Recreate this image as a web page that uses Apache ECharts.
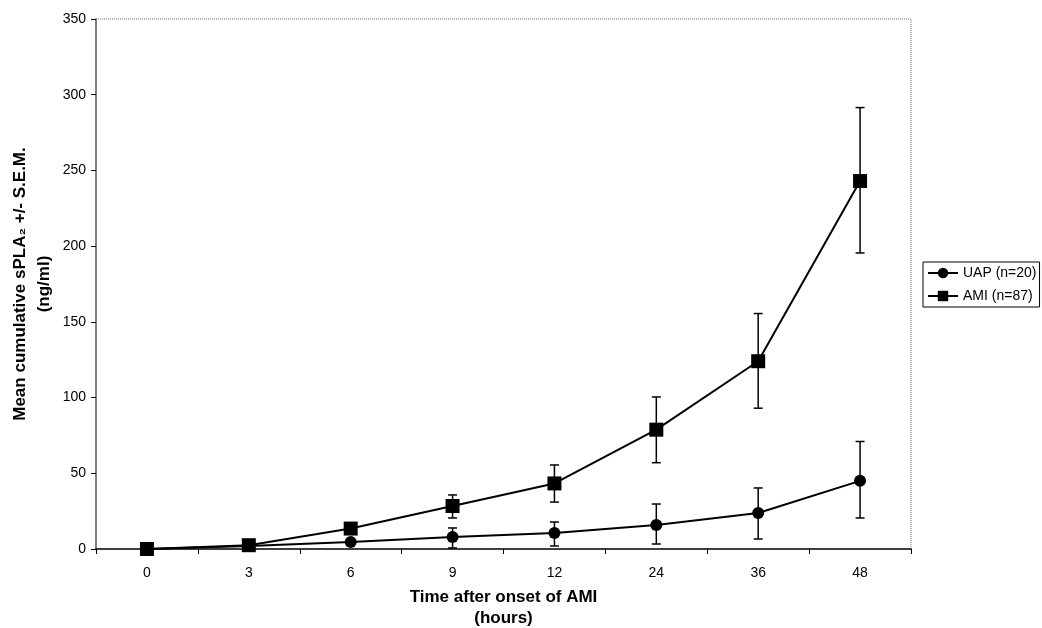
<!DOCTYPE html>
<html>
<head>
<meta charset="utf-8">
<script src="https://cdn.jsdelivr.net/npm/echarts@6/dist/echarts.min.js"></script>
<style>
  html, body { margin: 0; padding: 0; background: #fff; }
  #chart { width: 1042px; height: 628px; }
</style>
</head>
<body>
<div id="chart"></div>
<script>
const hours = ['0', '3', '6', '9', '12', '24', '36', '48']
const uapMean = [0, 2, 4.6, 7.9, 10.6, 15.9, 23.8, 45]
const uapLow = [0, 2, 4.6, 0.7, 2, 3.3, 6.6, 20.5]
const uapHigh = [0, 2, 4.6, 13.9, 17.8, 29.7, 40.3, 71]
const amiMean = [0, 2.5, 13.5, 28.4, 43.3, 78.8, 124, 243]
const amiLow = [0, 2.5, 13.5, 20.5, 31, 57, 93, 195.5]
const amiHigh = [0, 2.5, 13.5, 35.7, 55.5, 100.4, 155.5, 291.5]
const yTicks = [0, 50, 100, 150, 200, 250, 300, 350]

const chart = echarts.init(document.getElementById('chart'))
const font = 'Liberation Sans, Arial, sans-serif'

// 误差线：竖线加上下两个短横
function errorBars(low, high) {
  return {
    type: 'custom',
    silent: true,
    z: 1,
    data: hours.map((h, i) => [i, low[i], high[i]]).filter((d) => d[2] > d[1]),
    renderItem(params, api) {
      const top = api.coord([api.value(0), api.value(2)])
      const bot = api.coord([api.value(0), api.value(1)])
      const w = 4.5
      const style = { stroke: '#000', lineWidth: 1.5 }
      return {
        type: 'group',
        children: [
          { type: 'line', shape: { x1: top[0], y1: top[1], x2: bot[0], y2: bot[1] }, style },
          { type: 'line', shape: { x1: top[0] - w, y1: top[1], x2: top[0] + w, y2: top[1] }, style },
          { type: 'line', shape: { x1: bot[0] - w, y1: bot[1], x2: bot[0] + w, y2: bot[1] }, style },
        ],
      }
    },
  }
}

const option = {
  animation: false,
  textStyle: { fontFamily: font },
  grid: { left: 96, right: 131, top: 19, bottom: 79, outerBoundsMode: 'none' },
  legend: {
    orient: 'vertical',
    left: 923,
    top: 262,
    padding: [4, 3, 4, 4],
    itemGap: 9,
    itemWidth: 30,
    itemHeight: 13,
    borderColor: '#000',
    borderWidth: 1,
    textStyle: { color: '#000', fontSize: 14, fontFamily: font },
    data: ['UAP (n=20)', 'AMI (n=87)'],
  },
  xAxis: {
    type: 'category',
    data: hours,
    boundaryGap: true,
    name: 'Time after onset of AMI\n(hours)',
    nameLocation: 'middle',
    nameGap: 38,
    nameMoveOverlap: false,
    nameTextStyle: { fontSize: 17, fontWeight: 'bold', color: '#000', lineHeight: 21, fontFamily: font },
    axisLine: { lineStyle: { color: '#000', width: 1.5 } },
    axisTick: { show: true, length: 5, lineStyle: { color: '#000' } },
    axisLabel: { color: '#000', fontSize: 14, margin: 17, fontFamily: font },
    splitLine: { show: false },
  },
  yAxis: {
    type: 'value',
    min: yTicks[0],
    max: yTicks[yTicks.length - 1],
    interval: 50,
    name: 'Mean cumulative sPLA\u2082 +/- S.E.M.\n(ng/ml)',
    nameLocation: 'middle',
    nameRotate: 90,
    nameGap: 40,
    nameMoveOverlap: false,
    nameTextStyle: { fontSize: 17, fontWeight: 'bold', color: '#000', lineHeight: 24, fontFamily: font },
    axisLine: { show: true, lineStyle: { color: '#555', width: 1.5 } },
    axisTick: { show: true, length: 5, lineStyle: { color: '#000' } },
    axisLabel: { color: '#000', fontSize: 14, margin: 10, fontFamily: font },
    splitLine: { show: false },
  },
  graphic: [
    {
      type: 'polyline',
      shape: { points: [[96, 19], [911, 19], [911, 549]] },
      style: { stroke: '#777', lineWidth: 1, lineDash: [1, 1], fill: null },
      silent: true,
    },
  ],
  series: [
    errorBars(uapLow, uapHigh),
    errorBars(amiLow, amiHigh),
    {
      name: 'UAP (n=20)',
      type: 'line',
      data: uapMean,
      symbol: 'circle',
      symbolSize: 12,
      z: 3,
      lineStyle: { color: '#000', width: 2 },
      itemStyle: { color: '#000' },
    },
    {
      name: 'AMI (n=87)',
      type: 'line',
      data: amiMean,
      symbol: 'rect',
      symbolSize: 14,
      z: 4,
      lineStyle: { color: '#000', width: 2 },
      itemStyle: { color: '#000' },
    },
  ],
}

chart.setOption(option)
window.addEventListener('resize', () => chart.resize())
</script>
</body>
</html>
